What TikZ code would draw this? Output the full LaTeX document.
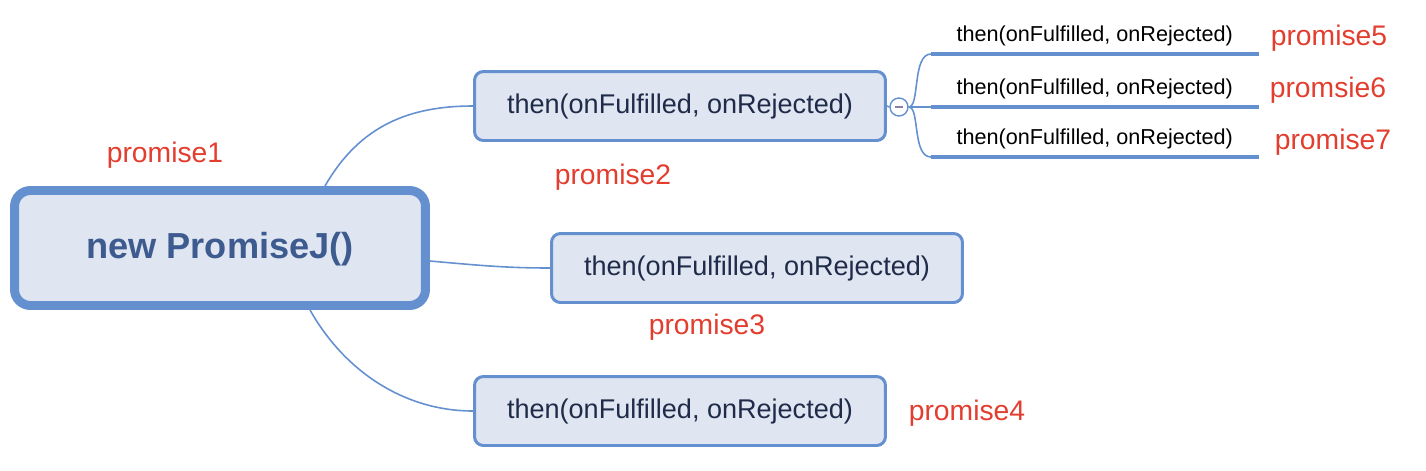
\documentclass[tikz,border=0pt]{standalone}
\usepackage{fontspec}
\setmainfont{Liberation Sans}
\usepackage{xcolor}
\usepackage{tikz}
\usetikzlibrary{positioning}
\definecolor{MBlue}{HTML}{6490D0}
\definecolor{MFill}{HTML}{DFE6F2}
\definecolor{MNavy}{HTML}{1F2B48}
\definecolor{MSteel}{HTML}{3D5B8E}
\definecolor{MRed}{HTML}{E23D2E}
\definecolor{MGrey}{HTML}{8A7FA8}

\begin{document}
\begin{tikzpicture}[
  x=0.02cm,y=-0.02cm,
  every node/.style={font=\fontsize{15.4}{18}\selectfont},
  root/.style={draw=MBlue,line width=5.1pt,rounded corners=9pt,fill=MFill,
    minimum width=8.22cm,minimum height=2.3cm,text=MSteel,text depth=0.3em,
    font=\fontsize{20.6}{24}\selectfont\bfseries},
  tb/.style={draw=MBlue,line width=1.7pt,rounded corners=5pt,fill=MFill,
    minimum width=8.22cm,minimum height=1.38cm,text=MNavy,text depth=0.3em},
  sub/.style={minimum width=6.54cm,minimum height=0.72cm,inner sep=0pt,
    anchor=south west,font=\fontsize{12.3}{14}\selectfont},
  lbl/.style={text=MRed,font=\fontsize{16.1}{19}\selectfont},
  fold/.style={circle,draw=MBlue,fill=white,line width=0.8pt,
    minimum size=0.36cm,inner sep=0pt},
  a/.style={draw=MBlue,line width=0.9pt},
  u/.style={draw=MBlue,line width=2.8pt}
]
  \useasboundingbox (0,0) rectangle (1426,470);

  \node[root] (root) at (220,248) {new PromiseJ()};
  \node[tb] (t2) at (680,106) {then(onFulfilled, onRejected)};
  \node[tb] (t3) at (757,268) {then(onFulfilled, onRejected)};
  \node[tb] (t4) at (680,411) {then(onFulfilled, onRejected)};
  \node[fold] (f2) at (899,107) {\textcolor{MGrey}{\rule{5pt}{0.8pt}}};

  \node[sub] (s5) at (931,54) {then(onFulfilled, onRejected)};
  \node[sub] (s6) at (931,107) {then(onFulfilled, onRejected)};
  \node[sub] (s7) at (931,157) {then(onFulfilled, onRejected)};

  \node[lbl] (p1) at (165,155) {promise1};
  \node[lbl] (p2) at (613,177) {promise2};
  \node[lbl] (p3) at (707,327) {promise3};
  \node[lbl] (p4) at (967,413) {promise4};
  \node[lbl] (p5) at (1329,38) {promise5};
  \node[lbl] (p6) at (1328,90) {promsie6};
  \node[lbl] (p7) at (1333,142) {promise7};

  \draw[a] ([xshift=2.1cm]root.north) .. controls (360,125) and (410,106) .. (t2.west);
  \draw[a] ([yshift=-0.26cm]root.east) .. controls (485,266) and (510,268) .. (t3.west);
  \draw[a] ([xshift=1.8cm]root.south) .. controls (345,372) and (405,411) .. (t4.west);
  \draw[a] (t2.east) -- (f2.west);
  \draw[a] (f2.east) .. controls (920,107) and (912,54) .. (s5.south west);
  \draw[a] (f2.east) -- (s6.south west);
  \draw[a] (f2.east) .. controls (920,107) and (912,157) .. (s7.south west);
  \draw[u] (s5.south west) -- (s5.south east);
  \draw[u] (s6.south west) -- (s6.south east);
  \draw[u] (s7.south west) -- (s7.south east);
\end{tikzpicture}
\end{document}
